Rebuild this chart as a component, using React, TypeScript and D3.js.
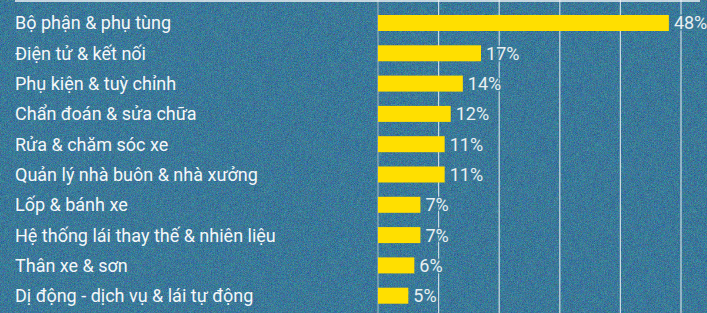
import { useEffect, useRef } from 'react';
import * as d3 from 'd3';

const categories = [
  'Bộ phận & phụ tùng',
  'Điện tử & kết nối',
  'Phụ kiện & tuỳ chỉnh',
  'Chẩn đoán & sửa chữa',
  'Rửa & chăm sóc xe',
  'Quản lý nhà buôn & nhà xưởng',
  'Lốp & bánh xe',
  'Hệ thống lái thay thế & nhiên liệu',
  'Thân xe & sơn',
  'Dị động - dịch vụ & lái tự động',
];
const shares = [48, 17, 14, 12, 11, 11, 7, 7, 6, 5];
const gridTicks = [0, 10, 20, 30, 40, 50];

const W = 707;
const H = 313;
const BG = '#3a7a98';

const App = () => {
  const svgRef = useRef<SVGSVGElement>(null);

  useEffect(() => {
    const svg = d3.select(svgRef.current);
    svg.selectAll('*').remove();

    const data = categories.map((c, i) => ({ cat: c, value: shares[i] }));

    const x = d3.scaleLinear().domain([0, 50]).range([378, 681]);
    const y = d3
      .scaleBand()
      .domain(categories)
      .range([7.85, 310.85])
      .paddingInner(0.472)
      .paddingOuter(0.236);

    // background + colour grain centred on the base tone
    const defs = svg.append('defs');
    const f = defs
      .append('filter')
      .attr('id', 'grain')
      .attr('x', 0)
      .attr('y', 0)
      .attr('width', '100%')
      .attr('height', '100%')
      .attr('color-interpolation-filters', 'sRGB');
    f.append('feTurbulence').attr('type', 'fractalNoise').attr('baseFrequency', 1.3).attr('numOctaves', 2).attr('seed', 7);
    f.append('feColorMatrix').attr('type', 'matrix')
      .attr('values', '0.6 0 0 0 -0.07  0 0.6 0 0 0.17  0 0 0.6 0 0.3  0 0 0 0 0.7');

    svg.append('rect').attr('width', W).attr('height', H).attr('fill', BG);
    svg.append('rect').attr('width', W).attr('height', H).attr('filter', 'url(#grain)');

    // gridlines
    svg
      .append('g')
      .selectAll('line')
      .data(gridTicks)
      .join('line')
      .attr('x1', d => x(d))
      .attr('x2', d => x(d))
      .attr('y1', 0)
      .attr('y2', H)
      .attr('stroke', d => (d === 0 ? '#a9bcc6' : '#e4ecf0'))
      .attr('stroke-opacity', d => (d === 0 ? 0.8 : 0.85))
      .attr('stroke-width', 1.2);

    // top rule
    svg.append('line')
      .attr('x1', 15).attr('x2', 700).attr('y1', 1).attr('y2', 1)
      .attr('stroke', '#f2f5f7').attr('stroke-width', 1.6);

    // category labels
    svg
      .append('g')
      .selectAll('text')
      .data(data)
      .join('text')
      .attr('x', 15)
      .attr('y', d => y(d.cat)! + y.bandwidth() / 2)
      .attr('dy', '0.36em')
      .attr('fill', '#f4f7f9')
      .style('font-family', 'Roboto, sans-serif')
      .style('font-size', '18px')
      .text(d => d.cat);

    // bars
    svg
      .append('g')
      .selectAll('rect')
      .data(data)
      .join('rect')
      .attr('x', x(0))
      .attr('y', d => y(d.cat)!)
      .attr('width', d => x(d.value) - x(0))
      .attr('height', y.bandwidth())
      .attr('fill', '#ffdf00');

    // value labels
    svg
      .append('g')
      .selectAll('text')
      .data(data)
      .join('text')
      .attr('x', d => x(d.value) + 5)
      .attr('y', d => y(d.cat)! + y.bandwidth() / 2)
      .attr('dy', '0.36em')
      .attr('fill', '#e9eff2')
      .attr('stroke', BG)
      .attr('stroke-width', 3)
      .attr('stroke-opacity', 0.8)
      .style('paint-order', 'stroke')
      .style('font-family', 'Roboto, sans-serif')
      .style('font-size', '18px')
      .text(d => `${d.value}%`);
  }, []);

  return (
    <svg
      ref={svgRef}
      width={W}
      height={H}
      style={{ position: 'fixed', top: 0, left: 0, display: 'block' }}
    />
  );
};

export default App;
